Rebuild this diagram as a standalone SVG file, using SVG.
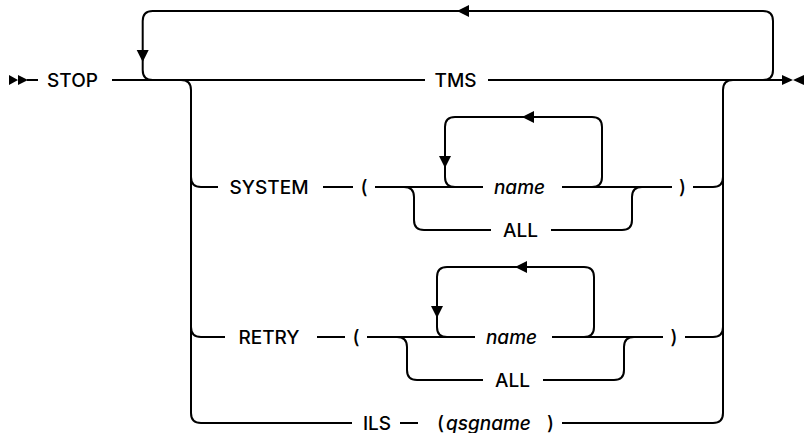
<svg xmlns="http://www.w3.org/2000/svg" width="806" height="433" viewBox="0 0 806 433">
<style>
.ln{fill:none;stroke:#000;stroke-width:2;stroke-linejoin:round}
.ah{fill:#000;stroke:none}
.t{font-family:Inter,"Liberation Sans",Arial,sans-serif;font-size:19px;font-weight:500;fill:#000}
.i{font-style:italic}
.m{text-anchor:middle}
</style>
<rect width="806" height="433" fill="#fff"/>
<g id="connectors">
<!-- start / end markers -->
<path class="ah" d="M9,75 L18,80 L9,85 Z M18,75 L28,80 L18,85 Z"/>
<path class="ln" d="M27,80 H38"/>
<path class="ah" d="M782,75 L793,80 L782,85 Z M804,75 L793,80 L804,85 Z"/>
<!-- main line -->
<path class="ln" d="M112,80 H425 M488,80 H784"/>
<!-- top repeat loop -->
<path class="ln" d="M763,80 Q773,80 773,70 V21 Q773,11 763,11 H152.7 Q142.7,11 142.7,21 V70 Q142.7,80 152.7,80"/>
<path class="ah" d="M457,11 L469,5 L469,17 Z"/>
<path class="ah" d="M136.7,50 L148.7,50 L142.7,62 Z"/>
<!-- left branch trunk -->
<path class="ln" d="M181,80 Q191,80 191,90 V413 Q191,423 201,423 H352"/>
<path class="ln" d="M191,177 Q191,187 201,187 H218"/>
<path class="ln" d="M191,327 Q191,337 201,337 H225"/>
<!-- right join trunk -->
<path class="ln" d="M733,80 Q723,80 723,90 V413 Q723,423 713,423 H562"/>
<path class="ln" d="M693,187 H713 Q723,187 723,177"/>
<path class="ln" d="M685,337 H713 Q723,337 723,327"/>
<!-- SYSTEM row -->
<path class="ln" d="M323,187 H353 M375,187 H483 M562,187 H672"/>
<path class="ln" d="M404,187 Q414,187 414,197 V220 Q414,230 424,230 H491 M551,230 H622 Q632,230 632,220 V197 Q632,187 642,187"/>
<path class="ln" d="M455,187 Q445,187 445,177 V127 Q445,117 455,117 H592 Q602,117 602,127 V177 Q602,187 592,187"/>
<path class="ah" d="M522,117 L534,111 L534,123 Z"/>
<path class="ah" d="M439,156 L451,156 L445,168 Z"/>
<!-- RETRY row -->
<path class="ln" d="M317,337 H345 M367,337 H475 M552,337 H663"/>
<path class="ln" d="M397,337 Q407,337 407,347 V370 Q407,380 417,380 H483 M543,380 H614 Q624,380 624,370 V347 Q624,337 634,337"/>
<path class="ln" d="M447,337 Q437,337 437,327 V277 Q437,267 447,267 H584 Q594,267 594,277 V327 Q594,337 584,337"/>
<path class="ah" d="M515,267 L527,261 L527,273 Z"/>
<path class="ah" d="M431,306 L443,306 L437,318 Z"/>
<!-- ILS row -->
<path class="ln" d="M400,423 H418"/>
</g>
<g id="stop"><text class="t m" x="72.5" y="87">STOP</text></g>
<g id="tms"><text class="t m" x="455.5" y="87">TMS</text></g>
<g id="system">
<text class="t m" x="269" y="194">SYSTEM</text>
<text class="t m" x="364" y="194">(</text>
<text class="t m i" x="519.5" y="194">name</text>
<text class="t m" x="520.5" y="237">ALL</text>
<text class="t m" x="682.5" y="194">)</text>
</g>
<g id="retry">
<text class="t m" x="269" y="344">RETRY</text>
<text class="t m" x="356" y="344">(</text>
<text class="t m i" x="511.5" y="344">name</text>
<text class="t m" x="512.5" y="387">ALL</text>
<text class="t m" x="674" y="344">)</text>
</g>
<g id="ils">
<text class="t m" x="377" y="430">ILS</text>
<text class="t" x="437" y="430">(</text>
<text class="t i" x="446" y="430">qsgname</text>
<text class="t" x="547" y="430">)</text>
</g>
</svg>
